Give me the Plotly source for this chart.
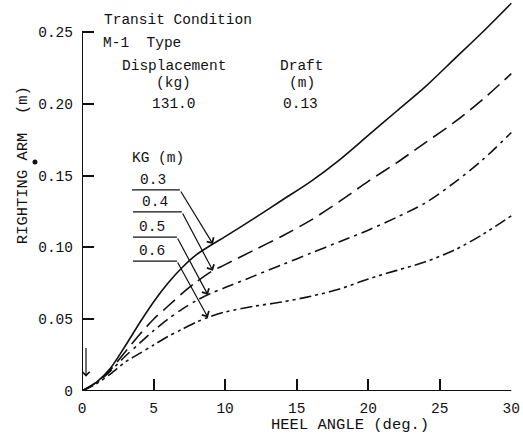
import numpy as np
import plotly.graph_objects as go

# ---- data ----
heel_angle = [0, 1, 2, 3, 4, 5, 6, 7, 8, 9, 10, 12, 14, 16, 18, 20, 22, 24, 26, 28, 30]
arm_kg_03 = [0, 0.006, 0.016, 0.031, 0.047, 0.062, 0.075, 0.086, 0.095, 0.1015, 0.1075,
             0.120, 0.133, 0.146, 0.161, 0.178, 0.195, 0.212, 0.231, 0.250, 0.270]
arm_kg_04 = [0, 0.006, 0.015, 0.027, 0.039, 0.050, 0.059, 0.068, 0.076, 0.083, 0.088,
             0.098, 0.108, 0.119, 0.132, 0.146, 0.159, 0.173, 0.187, 0.203, 0.221]
arm_kg_05 = [0, 0.0055, 0.014, 0.024, 0.033, 0.042, 0.050, 0.057, 0.063, 0.068, 0.072,
             0.080, 0.088, 0.096, 0.104, 0.112, 0.121, 0.131, 0.145, 0.161, 0.180]
arm_kg_06 = [0, 0.005, 0.012, 0.020, 0.026, 0.032, 0.038, 0.043, 0.048, 0.052, 0.055,
             0.059, 0.062, 0.066, 0.071, 0.078, 0.084, 0.090, 0.098, 0.109, 0.122]
kg_labels = ["0.3", "0.4", "0.5", "0.6"]
x_ticks = [0, 5, 10, 15, 20, 25, 30]
y_ticks = [0, 0.05, 0.10, 0.15, 0.20, 0.25]
y_tick_text = ["0", "0.05", "0.10", "0.15", "0.20", "0.25"]

FONT = "Liberation Mono, Courier New, monospace"
INK = "#111111"

series = [arm_kg_03, arm_kg_04, arm_kg_05, arm_kg_06]
dashes = ["solid", "16px,7px", "12px,5px,3px,5px", "12px,4px,3px,4px,3px,4px"]

fig = go.Figure()
for lab, ys, d in zip(kg_labels, series, dashes):
    fig.add_trace(go.Scatter(x=heel_angle, y=ys, mode="lines", name=lab,
                             line=dict(color=INK, width=1.6, dash=d, shape="spline", smoothing=0.8),
                             showlegend=False, hoverinfo="skip"))

# axis lines (left from 0 to 0.25, bottom 0 to 30)
fig.add_shape(type="line", xref="x", yref="y", x0=0, x1=0, y0=0, y1=y_ticks[-1],
              line=dict(color=INK, width=2))
fig.add_shape(type="line", xref="x", yref="y", x0=0, x1=x_ticks[-1], y0=0, y1=0,
              line=dict(color=INK, width=2))
# small ink dot beside the y-axis title
fig.add_shape(type="circle", xref="paper", yref="y", x0=-0.1151, x1=-0.1035,
              y0=0.1577, y1=0.1612, fillcolor=INK, line=dict(color=INK, width=0))

ann = []
# header text block
def txt(x, y, s, xanchor="left"):
    ann.append(dict(x=x, y=y, xref="x", yref="y", text=s, showarrow=False,
                    xanchor=xanchor, yanchor="middle", font=dict(family=FONT, size=14.5, color=INK)))

txt(1.4, 0.2585, "Transit Condition")
txt(1.3, 0.2425, "M-1  Type")
txt(6.4, 0.2262, "Displacement", "center")
txt(6.4, 0.2148, "(kg)", "center")
txt(6.4, 0.2000, "131.0", "center")
txt(15.4, 0.2262, "Draft", "center")
txt(15.4, 0.2148, "(m)", "center")
txt(15.3, 0.2000, "0.13", "center")
txt(5.3, 0.1622, "KG (m)", "center")

# KG leaders: underline + arrow to curve
under_y = [0.1400, 0.1247, 0.1072, 0.0905]
under_x0 = [3.49, 3.56, 3.56, 3.56]
under_x1 = [6.84, 6.98, 6.63, 6.63]
tip_x = [9.15, 9.15, 8.8, 8.8]
for lab, ys, uy, ux0, ux1, tx in zip(kg_labels, series, under_y, under_x0, under_x1, tip_x):
    fig.add_shape(type="line", xref="x", yref="y", x0=ux0, x1=ux1, y0=uy, y1=uy,
                  line=dict(color=INK, width=1.3))
    ty = float(np.interp(tx, heel_angle, ys))
    ann.append(dict(x=tx, y=ty, xref="x", yref="y", ax=ux1, ay=uy, axref="x", ayref="y",
                    text="", showarrow=True, arrowhead=4, arrowsize=1.3, arrowwidth=1.2,
                    arrowcolor=INK, standoff=0))
    ann.append(dict(x=(ux0 + ux1) / 2 - 0.2, y=uy, xref="x", yref="y", text=lab, showarrow=False,
                    xanchor="center", yanchor="bottom", yshift=0,
                    font=dict(family=FONT, size=14.5, color=INK)))

# small arrow near origin
ann.append(dict(x=0.28, y=0.010, xref="x", yref="y", ax=0.28, ay=0.031, axref="x", ayref="y",
                text="", showarrow=True, arrowhead=4, arrowsize=1.2, arrowwidth=1.2,
                arrowcolor=INK, standoff=0))

# axis titles
ann.append(dict(x=18.7, y=0, xref="x", yref="paper", yshift=-34, text="HEEL ANGLE (deg.)",
                showarrow=False, xanchor="center", yanchor="middle",
                font=dict(family=FONT, size=15.5, color=INK)))
ann.append(dict(x=-0.138, y=0.157, xref="paper", yref="y", text="RIGHTING ARM  (m)", textangle=-90,
                showarrow=False, xanchor="center", yanchor="middle",
                font=dict(family=FONT, size=15.5, color=INK)))

fig.update_layout(
    width=523, height=444,
    margin=dict(l=82, r=11, t=0, b=53),
    paper_bgcolor="white", plot_bgcolor="white",
    font=dict(family=FONT, size=14.5, color=INK),
    annotations=ann,
    xaxis=dict(range=[0, 30.05], tickvals=x_ticks, ticks="inside", ticklen=12, tickwidth=2,
               tickcolor=INK, showgrid=False, zeroline=False, showline=False,
               ticklabelstandoff=6, tickfont=dict(family=FONT, size=14.5, color=INK)),
    yaxis=dict(range=[0, 0.2723], tickvals=y_ticks, ticktext=y_tick_text, ticks="inside",
               ticklen=12, tickwidth=2, tickcolor=INK, showgrid=False, zeroline=False,
               showline=False, ticklabelstandoff=8, tickfont=dict(family=FONT, size=14.5, color=INK)),
)

fig.write_html("out.html", config={"displayModeBar": False},
               post_script="document.body.style.margin='0';document.body.style.overflow='hidden';")
